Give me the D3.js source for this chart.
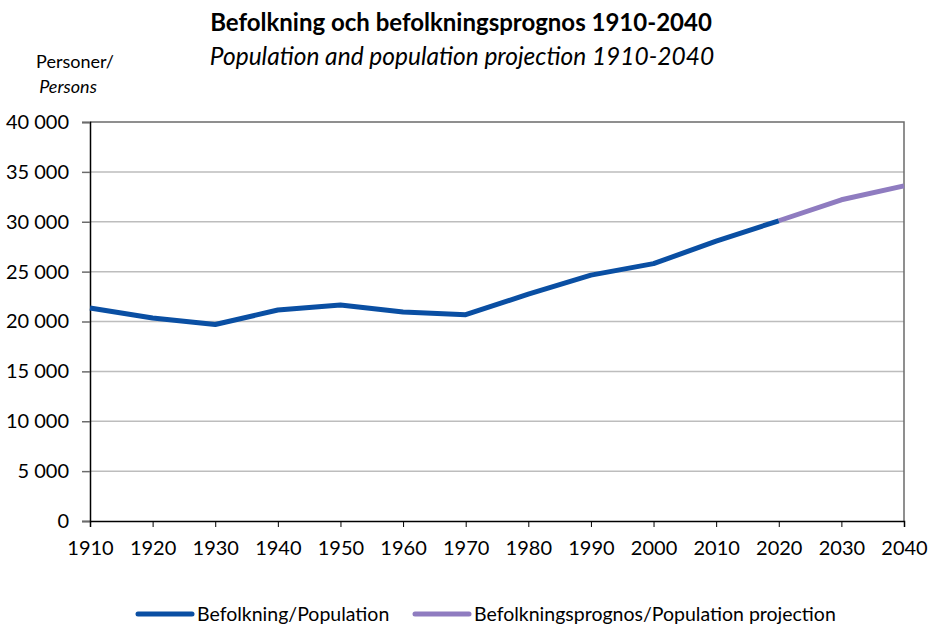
<!DOCTYPE html>
<html>
<head>
<meta charset="utf-8">
<script src="https://cdn.jsdelivr.net/npm/d3@7"></script>
<style>
  body { margin: 0; background: #fff; }
  text { font-family: Lato, "Open Sans", sans-serif; fill: #000; }
</style>
</head>
<body>
<div id="chart"></div>
<script>
// data
const years = [1910, 1920, 1930, 1940, 1950, 1960, 1970, 1980, 1990, 2000, 2010, 2020]
const population = [21350, 20350, 19700, 21150, 21650, 20950, 20680, 22750, 24650, 25800, 28050, 30100]
const projYears = [2020, 2030, 2040]
const projection = [30100, 32200, 33600]
const yTicks = [0, 5000, 10000, 15000, 20000, 25000, 30000, 35000, 40000]
const xTicks = [1910, 1920, 1930, 1940, 1950, 1960, 1970, 1980, 1990, 2000, 2010, 2020, 2030, 2040]
const seriesNames = ['Befolkning/Population', 'Befolkningsprognos/Population projection']
const colors = ['#0a4fa3', '#8f7cc0']

const w = 929
const h = 627
const margin = {top: 122, right: 25, bottom: 106, left: 90}
const plotWidth = w - margin.left - margin.right
const plotHeight = h - margin.top - margin.bottom

const svg = d3.select('#chart')
  .append('svg')
    .attr('width', w)
    .attr('height', h)

// titles
svg.append('text')
  .attr('x', 461).attr('y', 31)
  .attr('text-anchor', 'middle')
  .style('font-size', '24px')
  .style('font-weight', 'bold')
  .text('Befolkning och befolkningsprognos 1910-2040')

svg.append('text')
  .attr('x', 462).attr('y', 65)
  .attr('text-anchor', 'middle')
  .style('font-size', '24.5px')
  .style('font-style', 'italic')
  .text('Population and population projection 1910-2040')

svg.append('text')
  .attr('x', 75).attr('y', 68)
  .attr('text-anchor', 'middle')
  .style('font-size', '18px')
  .text('Personer/')

svg.append('text')
  .attr('x', 68).attr('y', 93)
  .attr('text-anchor', 'middle')
  .style('font-size', '18px')
  .style('font-style', 'italic')
  .text('Persons')

const g = svg.append('g')
  .attr('transform', 'translate(' + margin.left + ',' + margin.top + ')')

const xScale = d3.scaleLinear()
  .domain([1910, 2040])
  .range([0, plotWidth])

const yScale = d3.scaleLinear()
  .domain([0, 40000])
  .range([plotHeight, 0])

// gridlines
g.selectAll('.grid')
  .data(yTicks.filter(d => d > 0 && d < 40000))
  .enter()
  .append('line')
    .attr('x1', 0).attr('x2', plotWidth)
    .attr('y1', d => yScale(d)).attr('y2', d => yScale(d))
    .attr('stroke', '#bdbdbd')
    .attr('stroke-width', 1.5)

// plot border (top and right)
g.append('path')
  .attr('d', 'M0,0H' + plotWidth + 'V' + plotHeight)
  .attr('fill', 'none')
  .attr('stroke', '#6b6b6b')
  .attr('stroke-width', 1.5)

const fmt = d => d3.format(',')(d).replace(/,/g, ' ')

// y axis
const yAxis = g.append('g')
  .call(d3.axisLeft(yScale).tickValues(yTicks).tickSize(8).tickPadding(13).tickFormat(fmt))
yAxis.select('.domain').attr('stroke', '#000').attr('stroke-width', 1.5)
yAxis.selectAll('.tick line').attr('stroke', '#6b6b6b').attr('stroke-width', 1.5)
yAxis.selectAll('.tick text').style('font-size', '20px').style('font-family', 'Lato, sans-serif').attr('fill', '#000')

// x axis
const xAxis = g.append('g')
  .attr('transform', 'translate(0,' + plotHeight + ')')
  .call(d3.axisBottom(xScale).tickValues(xTicks).tickSize(6).tickPadding(14).tickFormat(d3.format('d')))
xAxis.select('.domain').attr('stroke', '#000').attr('stroke-width', 1.5)
xAxis.selectAll('.tick line').attr('stroke', '#000').attr('stroke-width', 1)
xAxis.selectAll('.tick text').style('font-size', '20px').style('font-family', 'Lato, sans-serif').attr('fill', '#000')

// lines
const line = d3.line()
  .x(d => xScale(d[0]))
  .y(d => yScale(d[1]))

g.append('path')
  .datum(projYears.map((y, i) => [y, projection[i]]))
  .attr('d', line)
  .attr('fill', 'none')
  .attr('stroke', colors[1])
  .attr('stroke-width', 5)
  .attr('stroke-linejoin', 'round')

g.append('path')
  .datum(years.map((y, i) => [y, population[i]]))
  .attr('d', line)
  .attr('fill', 'none')
  .attr('stroke', colors[0])
  .attr('stroke-width', 5)
  .attr('stroke-linejoin', 'round')

// legend
const legendX = [138, 415]
const legend = svg.selectAll('.legend')
  .data(seriesNames)
  .enter()
  .append('g')
    .attr('transform', (d, i) => 'translate(' + legendX[i] + ',614)')

legend.append('line')
  .attr('x1', 0).attr('x2', 54)
  .attr('stroke', (d, i) => colors[i])
  .attr('stroke-width', 5)
  .attr('stroke-linecap', 'round')

legend.append('text')
  .attr('x', 59).attr('y', 7)
  .style('font-size', '19.5px')
  .text(d => d)
</script>
</body>
</html>
